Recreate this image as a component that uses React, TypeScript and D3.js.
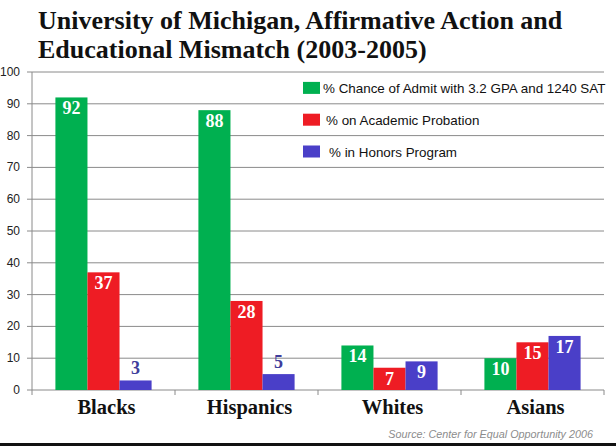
import React from "react";
import * as d3 from "d3";

const categories = ["Blacks", "Hispanics", "Whites", "Asians"];
const seriesNames = [
  "% Chance of Admit with 3.2 GPA and 1240 SAT",
  "% on Academic Probation",
  "% in Honors Program",
];
const admitValues = [92, 88, 14, 10];
const probationValues = [37, 28, 7, 15];
const honorsValues = [3, 5, 9, 17];
const yTicks = [0, 10, 20, 30, 40, 50, 60, 70, 80, 90, 100];
const titleLines = [
  "University of Michigan, Affirmative Action and",
  "Educational Mismatch (2003-2005)",
];
const sourceText = "Source: Center for Equal Opportunity 2006";

const colors = ["#00b050", "#ee1c24", "#4a3fc8"];
const W = 616;
const H = 446;
const serif = "'Liberation Serif', 'DejaVu Serif', serif";
const sans = "'Liberation Sans', Arial, sans-serif";

export default function App() {
  const seriesValues = [admitValues, probationValues, honorsValues];

  const x = d3.scaleBand<string>().domain(categories).range([32, 604]);
  const xSub = d3
    .scaleBand<number>()
    .domain([0, 1, 2])
    .range([0, x.bandwidth()])
    .paddingInner(0)
    .paddingOuter(0.73);
  const y = d3.scaleLinear().domain([0, 100]).range([390, 72]);

  const boundaries = categories.map((c) => x(c)!).concat([x.range()[1]]);

  return (
    <div style={{ position: "absolute", left: 0, top: 0, width: W, height: H, background: "#fff" }}>
      <svg width={W} height={H} style={{ display: "block" }}>
        <rect width={W} height={H} fill="#fff" />

        {/* title */}
        {titleLines.map((t, i) => (
          <text
            key={t}
            x={38}
            y={29 + i * 29}
            fontFamily={serif}
            fontWeight="bold"
            fontSize={26}
            fill="#111"
          >
            {t}
          </text>
        ))}

        {/* gridlines + y ticks */}
        {yTicks.map((t) => (
          <g key={t}>
            <line x1={27} x2={604} y1={y(t)} y2={y(t)} stroke="#8a8a8a" strokeWidth={1} />
            <text
              x={20}
              y={y(t) + 4}
              textAnchor="end"
              fontFamily={sans}
              fontSize={12}
              fill="#222"
            >
              {t}
            </text>
          </g>
        ))}
        <line x1={32} x2={32} y1={y(100)} y2={y(0)} stroke="#8a8a8a" />
        {boundaries.map((b, i) => (
          <line key={i} x1={b} x2={b} y1={y(0)} y2={y(0) + 5} stroke="#8a8a8a" />
        ))}

        {/* bars */}
        {categories.map((c, ci) =>
          seriesValues.map((vals, si) => {
            const v = vals[ci];
            const bx = x(c)! + xSub(si)!;
            const bw = xSub.bandwidth();
            const top = y(v);
            const inside = v >= 7;
            return (
              <g key={c + si}>
                <rect x={bx} y={top} width={bw} height={y(0) - top} fill={colors[si]} />
                <text
                  x={bx + bw / 2}
                  y={inside ? top + 17 : top - 6}
                  textAnchor="middle"
                  fontFamily={serif}
                  fontWeight="bold"
                  fontSize={18}
                  fill={inside ? "#fff" : "#3f3d9c"}
                >
                  {v}
                </text>
              </g>
            );
          })
        )}

        {/* category labels */}
        {categories.map((c) => (
          <text
            key={c}
            x={x(c)! + x.bandwidth() / 2 + 3}
            y={414}
            textAnchor="middle"
            fontFamily={serif}
            fontWeight="bold"
            fontSize={20.5}
            fill="#111"
          >
            {c}
          </text>
        ))}

        {/* legend */}
        {seriesNames.map((s, i) => {
          const yc = (y(100 - i * 10) + y(90 - i * 10)) / 2;
          return (
            <g key={s}>
              <rect x={303} y={yc - 6} width={17} height={12} fill={colors[i]} />
              <text x={323 + i * 3} y={yc + 5} fontFamily={sans} fontSize={13.4} fill="#111">
                {s}
              </text>
            </g>
          );
        })}

        {/* source */}
        <text
          x={593}
          y={438}
          textAnchor="end"
          fontFamily={sans}
          fontStyle="italic"
          fontSize={10.8}
          fill="#8c8c8c"
        >
          {sourceText}
        </text>
        <rect x={0} y={443} width={W} height={3} fill="#111" />
      </svg>
    </div>
  );
}
